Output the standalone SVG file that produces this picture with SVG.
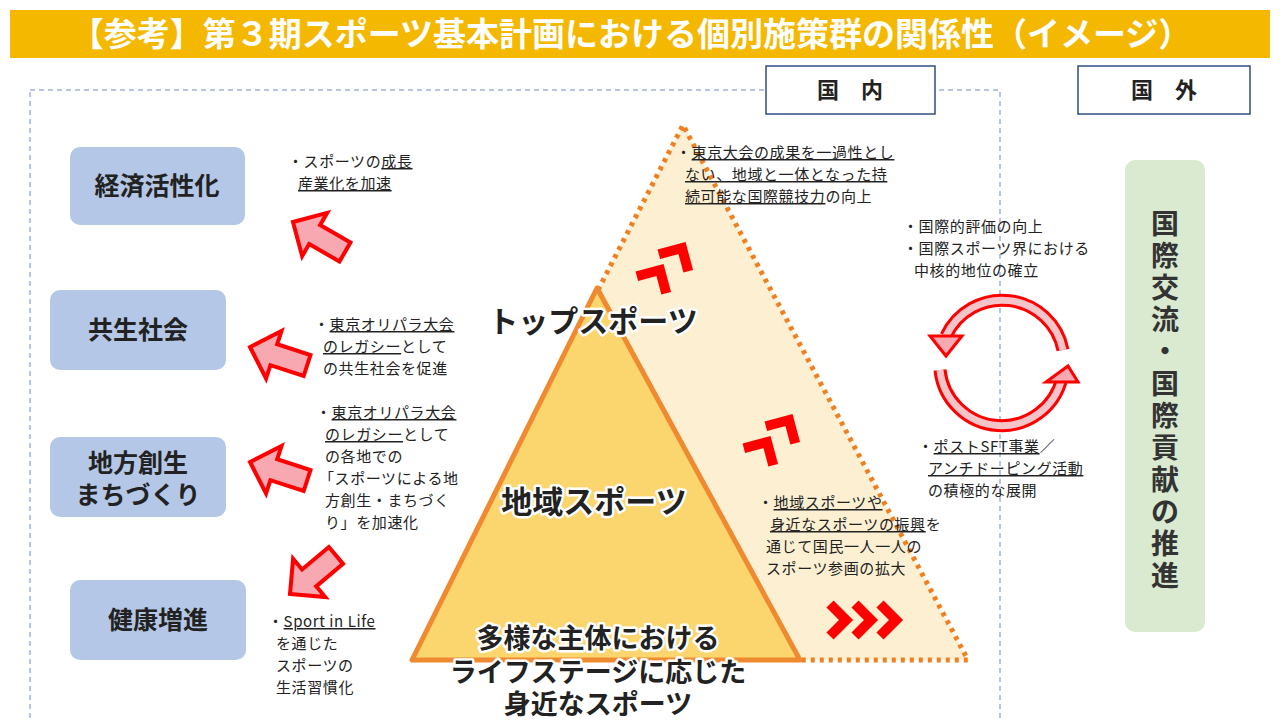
<svg xmlns="http://www.w3.org/2000/svg" width="1280" height="720" viewBox="0 0 1280 720">
<style>
text{font-family:"Noto Sans CJK JP","Noto Sans",sans-serif;fill:#222}
.n{font-size:15px;letter-spacing:0.6px}
.u{text-decoration:underline}
.box{fill:#b4c7e7}
.bl{font-size:25px;font-weight:bold;text-anchor:middle}
.big{font-weight:bold;text-anchor:middle;stroke:#fff;stroke-width:5px;paint-order:stroke;stroke-linejoin:round}
.arr{fill:#f7a8b0;stroke:#f00;stroke-width:4;stroke-linejoin:miter}
.chev{fill:none;stroke:#f00;stroke-width:10}
.hd{font-size:22px;font-weight:bold;text-anchor:middle}
</style>
<defs>
<polygon id="ba" points="0,0 -25,-25 -25,-11 -60,-11 -60,11 -25,11 -25,25"/>
<polyline id="cv" points="-24,0 0,0 0,24"/>
</defs>
<rect width="1280" height="720" fill="#fff"/>
<g id="title"><rect x="10" y="10" width="1260" height="48" fill="#f5b800"/>
<text x="631" y="46" font-size="33" font-weight="bold" text-anchor="middle" style="fill:#fff">【参考】第３期スポーツ基本計画における個別施策群の関係性（イメージ）</text></g>
<rect x="30" y="90" width="970" height="640" fill="none" stroke="#9db3d9" stroke-width="1.5" stroke-dasharray="5,4"/>
<g id="kokunai"><rect x="766" y="66" width="169" height="48" fill="#fff" stroke="#2f4f7f" stroke-width="1.5"/><text class="hd" x="850" y="98">国　内</text></g>
<g id="kokugai"><rect x="1078" y="66" width="172" height="48" fill="#fff" stroke="#2f4f7f" stroke-width="1.5"/><text class="hd" x="1164" y="98">国　外</text></g>

<g id="outer-tri"><polygon points="683,125 968,660 800,660 598,290" fill="#fdf0d2"/>
<polyline points="598,290 683,125 968,660 800,660" fill="none" stroke="#f07f20" stroke-width="5" stroke-dasharray="4,5"/></g>
<g id="inner-tri"><polygon points="597,288 412,660 800,660" fill="#fbd56e" stroke="#f08a30" stroke-width="5" stroke-linejoin="round"/></g>

<g id="n1"><rect class="box" x="70" y="147" width="175" height="78" rx="10"/><text class="bl" x="157" y="195">経済活性化</text></g>
<g id="n2"><rect class="box" x="50" y="290" width="176" height="80" rx="10"/><text class="bl" x="138" y="339">共生社会</text></g>
<g id="n3"><rect class="box" x="50" y="437" width="176" height="80" rx="10"/><text class="bl" x="138" y="472">地方創生</text><text class="bl" x="138" y="504">まちづくり</text></g>
<g id="n4"><rect class="box" x="70" y="580" width="176" height="80" rx="10"/><text class="bl" x="158" y="629">健康増進</text></g>

<g id="green"><rect x="1125" y="160" width="80" height="472" rx="10" fill="#d9ead0"/>
<text font-size="28" font-weight="bold" text-anchor="middle" style="fill:#333"><tspan x="1165" y="234">国</tspan><tspan x="1165" y="266">際</tspan><tspan x="1165" y="298">交</tspan><tspan x="1165" y="330">流</tspan><tspan x="1165" y="362">・</tspan><tspan x="1165" y="394">国</tspan><tspan x="1165" y="426">際</tspan><tspan x="1165" y="458">貢</tspan><tspan x="1165" y="490">献</tspan><tspan x="1165" y="522">の</tspan><tspan x="1165" y="554">推</tspan><tspan x="1165" y="586">進</tspan></text></g>

<g id="connectors">
<use href="#ba" class="arr" transform="translate(293,222) rotate(210)"/>
<use href="#ba" class="arr" transform="translate(250,347) rotate(198)"/>
<use href="#ba" class="arr" transform="translate(250,462) rotate(198)"/>
<use href="#ba" class="arr" transform="translate(290,594) rotate(140)"/>
<g class="chev">
<use href="#cv" transform="translate(660,270) rotate(-15)"/>
<use href="#cv" transform="translate(682,248) rotate(-15)"/>
<use href="#cv" transform="translate(767,442) rotate(-15)"/>
<use href="#cv" transform="translate(789,420) rotate(-15)"/>
<polyline points="830,604 846,620 830,636"/><polyline points="855,604 871,620 855,636"/><polyline points="880,604 896,620 880,636"/>
</g>
<path d="M1063,350 A62,62 0 0 0 946,336" fill="none" stroke="#f00" stroke-width="13"/>
<path d="M1063,350 A62,62 0 0 0 946,336" fill="none" stroke="#f4c4c8" stroke-width="7"/>
<polygon class="arr" points="930,336 962,336 946,356" style="stroke-width:3"/>
<path d="M940,370 A62,62 0 0 0 1062,378" fill="none" stroke="#f00" stroke-width="13"/>
<path d="M940,370 A62,62 0 0 0 1062,378" fill="none" stroke="#f4c4c8" stroke-width="7"/>
<polygon class="arr" points="1046,382 1078,382 1068,366" style="stroke-width:3"/>
</g>

<g id="labels">
<text class="big" x="593" y="332" font-size="30">トップスポーツ</text>
<text class="big" x="594" y="513" font-size="31">地域スポーツ</text>
<text class="big" x="598" y="648" font-size="27">多様な主体における</text>
<text class="big" x="598" y="682" font-size="27">ライフステージに応じた</text>
<text class="big" x="598" y="714" font-size="27">身近なスポーツ</text>
</g>

<g id="notes">
<text class="n" x="288" y="167">・スポーツの<tspan class="u">成長</tspan></text>
<text class="n" x="298" y="189"><tspan class="u">産業化を加速</tspan></text>
<text class="n" x="314" y="330">・<tspan class="u">東京オリパラ大会</tspan></text>
<text class="n" x="323" y="352"><tspan class="u">のレガシー</tspan>として</text>
<text class="n" x="323" y="374">の共生社会を促進</text>
<text class="n" x="316" y="418">・<tspan class="u">東京オリパラ大会</tspan></text>
<text class="n" x="325" y="440"><tspan class="u">のレガシー</tspan>として</text>
<text class="n" x="325" y="462">の各地での</text>
<text class="n" x="319" y="484">「スポーツによる地</text>
<text class="n" x="325" y="506">方創生・まちづく</text>
<text class="n" x="325" y="528">り」を加速化</text>
<text class="n" x="268" y="627">・<tspan class="u">Sport in Life</tspan></text>
<text class="n" x="276" y="649">を通じた</text>
<text class="n" x="276" y="671">スポーツの</text>
<text class="n" x="276" y="693">生活習慣化</text>
<text class="n" x="676" y="158">・<tspan class="u">東京大会の成果を一過性とし</tspan></text>
<text class="n" x="685" y="180"><tspan class="u">ない、地域と一体となった持</tspan></text>
<text class="n" x="685" y="202"><tspan class="u">続可能な国際競技力</tspan>の向上</text>
<text class="n" x="903" y="232">・国際的評価の向上</text>
<text class="n" x="903" y="254">・国際スポーツ界における</text>
<text class="n" x="914" y="276">中核的地位の確立</text>
<text class="n" x="918" y="452">・<tspan class="u">ポストSFT事業</tspan>／</text>
<text class="n" x="928" y="474"><tspan class="u">アンチドーピング活動</tspan></text>
<text class="n" x="928" y="496">の積極的な展開</text>
<text class="n" x="758" y="508">・<tspan class="u">地域スポーツや</tspan></text>
<text class="n" x="770" y="530"><tspan class="u">身近なスポーツの振興</tspan>を</text>
<text class="n" x="766" y="552">通じて国民一人一人の</text>
<text class="n" x="766" y="574">スポーツ参画の拡大</text>
</g>
</svg>
